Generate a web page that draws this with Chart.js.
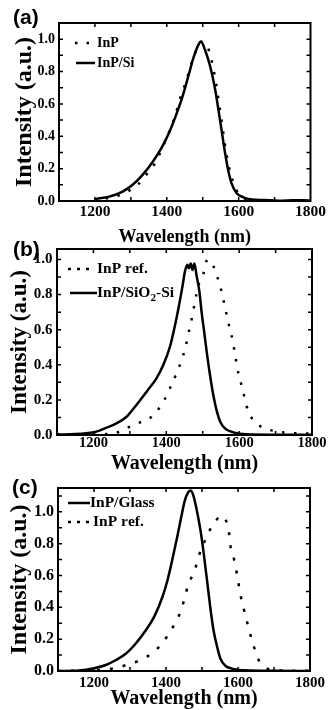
<!DOCTYPE html>
<html>
<head>
<meta charset="utf-8">
<script src="https://cdn.jsdelivr.net/npm/chart.js@4.4.1/dist/chart.umd.min.js"></script>
<style>
  html, body { margin: 0; padding: 0; background: #fff; }
  #wrap { position: relative; width: 328px; height: 710px; overflow: hidden; }
  #wrap canvas { position: absolute; left: 0; top: 0; }
  .tag { position: absolute; font: bold 21px "Liberation Sans", Arial, sans-serif; line-height: 21px; color: #000; }
</style>
</head>
<body>
<div id="wrap">
  <canvas id="chartA" width="328" height="710"></canvas>
  <canvas id="chartB" width="328" height="710"></canvas>
  <canvas id="chartC" width="328" height="710"></canvas>
  <div class="tag" style="left:13px;top:6px">(a)</div>
  <div class="tag" style="left:13px;top:238px">(b)</div>
  <div class="tag" style="left:12px;top:476px">(c)</div>
</div>
<script>
// tick labels (same for all three panels)
const xTicks = [1200, 1400, 1600, 1800];
const yTicks = [0, 0.2, 0.4, 0.6, 0.8, 1.0];

// (a) InP (dotted) and InP/Si (solid)
const wlA_InP = [1230, 1260, 1291, 1321, 1346, 1369, 1385, 1399, 1413, 1424, 1434, 1445, 1455, 1464, 1475, 1486, 1498, 1512, 1523, 1530, 1536, 1541, 1546, 1551, 1556, 1560, 1565, 1571, 1578, 1588, 1599, 1612, 1630, 1660];
const intA_InP = [0.015, 0.03, 0.058, 0.105, 0.171, 0.239, 0.315, 0.387, 0.463, 0.531, 0.613, 0.685, 0.747, 0.819, 0.891, 0.953, 0.984, 0.959, 0.887, 0.813, 0.743, 0.669, 0.597, 0.521, 0.442, 0.377, 0.305, 0.233, 0.167, 0.099, 0.047, 0.02, 0.008, 0.002];
const wlA_InPSi = [1200, 1240, 1277, 1305, 1332, 1360, 1387, 1406, 1424, 1443, 1461, 1475, 1489, 1495, 1507, 1521, 1535, 1544, 1553, 1562, 1571, 1580, 1594, 1613, 1636, 1672, 1710, 1750, 1780, 1800];
const intA_InPSi = [0.012, 0.027, 0.058, 0.10, 0.16, 0.24, 0.335, 0.42, 0.52, 0.64, 0.78, 0.89, 0.97, 0.985, 0.93, 0.83, 0.685, 0.56, 0.43, 0.30, 0.19, 0.11, 0.05, 0.023, 0.01, 0.006, 0.002, 0.004, 0.005, 0.003];

// (b) InP ref. (dotted) and InP/SiO2-Si (solid)
const wlB_ref = [1100, 1150, 1200, 1235, 1259, 1286, 1314, 1360, 1392, 1410, 1428, 1442, 1453, 1462, 1470, 1477, 1483, 1491, 1502, 1513, 1525, 1534, 1543, 1552, 1559, 1566, 1573, 1582, 1589, 1595, 1603, 1612, 1621, 1635, 1653, 1676, 1704, 1731, 1768, 1800];
const intB_ref = [0.004, 0.003, 0.003, 0.005, 0.0095, 0.034, 0.061, 0.104, 0.19, 0.266, 0.351, 0.427, 0.503, 0.588, 0.664, 0.74, 0.806, 0.873, 0.92, 1.0, 0.977, 0.94, 0.882, 0.816, 0.75, 0.683, 0.617, 0.541, 0.455, 0.38, 0.313, 0.237, 0.161, 0.095, 0.057, 0.034, 0.019, 0.013, 0.009, 0.008];
const wlB_SiO2 = [1100, 1150, 1181, 1208, 1236, 1263, 1291, 1318, 1346, 1373, 1392, 1410, 1424, 1435, 1445, 1451, 1458, 1462, 1467, 1472, 1477, 1483, 1491, 1497, 1504, 1511, 1520, 1529, 1539, 1548, 1561, 1584, 1621, 1700, 1800];
const intB_SiO2 = [0.003, 0.005, 0.01, 0.019, 0.042, 0.066, 0.104, 0.171, 0.247, 0.323, 0.40, 0.503, 0.626, 0.74, 0.854, 0.93, 0.97, 0.95, 0.977, 0.94, 0.977, 0.91, 0.816, 0.70, 0.588, 0.474, 0.342, 0.228, 0.133, 0.076, 0.038, 0.015, 0.004, 0.002, 0.001];

// (c) InP/Glass (solid) and InP ref. (dotted)
const wlC_glass = [1100, 1158, 1200, 1233, 1261, 1289, 1316, 1344, 1367, 1390, 1404, 1417, 1431, 1443, 1452, 1461, 1468, 1475, 1484, 1496, 1505, 1514, 1523, 1532, 1542, 1551, 1565, 1583, 1620, 1700, 1800];
const intC_glass = [0.0, 0.003, 0.017, 0.0375, 0.069, 0.11, 0.173, 0.256, 0.34, 0.465, 0.569, 0.694, 0.84, 0.975, 1.069, 1.121, 1.135, 1.11, 1.027, 0.881, 0.735, 0.569, 0.40, 0.256, 0.152, 0.079, 0.033, 0.015, 0.004, 0.001, 0.0];
const wlC_ref = [1100, 1150, 1200, 1238, 1268, 1298, 1330, 1360, 1387, 1408, 1427, 1440, 1450, 1460, 1475, 1487, 1496, 1509, 1523, 1537, 1553, 1562, 1569, 1575, 1580, 1590, 1600, 1608, 1616, 1624, 1633, 1643, 1655, 1675, 1700, 1750, 1800];
const intC_ref = [0.0, 0.002, 0.004, 0.01, 0.023, 0.044, 0.069, 0.11, 0.167, 0.235, 0.308, 0.37, 0.444, 0.527, 0.61, 0.683, 0.756, 0.823, 0.892, 0.94, 0.975, 0.965, 0.93, 0.87, 0.77, 0.694, 0.57, 0.465, 0.39, 0.319, 0.24, 0.1625, 0.08, 0.023, 0.006, 0.002, 0.001];

const SERIF = '"Liberation Serif", "Times New Roman", serif';
const W = 328, H = 710;

function pts(xs, ys) {
  return xs.map((x, i) => ({ x: x, y: ys[i] }));
}

// box, inward ticks and the small in-plot legend
const panelDeco = {
  id: 'panelDeco',
  afterDatasetsDraw(chart, args, opts) {
    const { ctx, chartArea: a, scales: { x, y } } = chart;
    ctx.save();
    ctx.strokeStyle = '#000';
    ctx.lineWidth = 1.5;
    ctx.beginPath();
    for (let v = 1200; v < 1800; v += 100) {
      const px = x.getPixelForValue(v);
      ctx.moveTo(px, a.bottom); ctx.lineTo(px, a.bottom - 4);
      ctx.moveTo(px, a.top); ctx.lineTo(px, a.top + 4);
    }
    for (let k = 1; k / 10 < y.max - 0.01; k++) {
      const py = y.getPixelForValue(k / 10);
      ctx.moveTo(a.left, py); ctx.lineTo(a.left + 4, py);
      ctx.moveTo(a.right, py); ctx.lineTo(a.right - 4, py);
    }
    ctx.stroke();
    ctx.lineWidth = 2;
    ctx.strokeRect(a.left, a.top, a.right - a.left, a.bottom - a.top);

    // legend
    const size = opts.fontSize;
    opts.items.forEach(it => {
      const ds = chart.data.datasets[it.ds];
      ctx.beginPath();
      ctx.lineWidth = ds.borderWidth;
      ctx.setLineDash(it.dash || []);
      ctx.moveTo(it.x0, it.y);
      ctx.lineTo(it.x1, it.y);
      ctx.stroke();
      ctx.setLineDash([]);
      ctx.fillStyle = '#000';
      ctx.textBaseline = 'middle';
      ctx.textAlign = 'left';
      let tx = it.tx;
      for (const ch of ds.label) {
        if (ch === '\u2082') {
          ctx.font = 'bold ' + (size * 0.72) + 'px ' + SERIF;
          ctx.fillText('2', tx, it.y + size * 0.3);
          tx += ctx.measureText('2').width;
        } else {
          ctx.font = 'bold ' + size + 'px ' + SERIF;
          ctx.fillText(ch, tx, it.y);
          tx += ctx.measureText(ch).width;
        }
      }
    });
    ctx.restore();
  }
};

function makePanel(id, p) {
  const xTitleLH = p.xTitleSize * 1.2;
  const xAxisH = p.xTitleCenter - p.area.bottom + xTitleLH / 2;
  new Chart(document.getElementById(id), {
    type: 'line',
    data: { datasets: p.datasets },
    options: {
      responsive: false,
      animation: false,
      events: [],
      layout: {
        padding: { left: 0, right: W - p.area.right, top: p.area.top, bottom: H - p.area.bottom - xAxisH }
      },
      elements: { point: { radius: 0 } },
      plugins: {
        legend: { display: false },
        tooltip: { enabled: false },
        panelDeco: p.legend
      },
      scales: {
        x: {
          type: 'linear',
          min: 1100,
          max: 1800,
          grid: { display: false, drawTicks: false },
          border: { display: false },
          afterBuildTicks: s => { s.ticks = xTicks.map(v => ({ value: v })); },
          afterFit: s => { s.height = xAxisH; },
          ticks: {
            padding: p.xTickPad,
            maxRotation: 0,
            color: '#000',
            font: { family: SERIF, size: p.xFont, weight: 'bold' },
            callback: v => String(v)
          },
          title: {
            display: true,
            text: 'Wavelength (nm)',
            color: '#000',
            padding: { top: 0, bottom: 0 },
            font: { family: SERIF, size: p.xTitleSize, weight: 'bold' }
          }
        },
        y: {
          type: 'linear',
          min: 0,
          max: p.ymax,
          grid: { display: false, drawTicks: false },
          border: { display: false },
          afterBuildTicks: s => { s.ticks = yTicks.map(v => ({ value: v })); },
          afterFit: s => { s.width = p.area.left; },
          ticks: {
            padding: p.yTickPad,
            color: '#000',
            font: { family: SERIF, size: p.yFont, weight: 'bold' },
            callback: v => Number(v).toFixed(1)
          },
          title: {
            display: true,
            text: 'Intensity (a.u.)',
            color: '#000',
            padding: { top: p.yTitleCenter - p.yTitleSize * 0.6, bottom: 0 },
            font: { family: SERIF, size: p.yTitleSize, weight: 'bold' }
          }
        }
      }
    },
    plugins: [panelDeco]
  });
}

function solid(label, data) {
  return { label: label, data: data, borderColor: '#000', borderWidth: 2.5, fill: false, cubicInterpolationMode: 'monotone' };
}
function dotted(label, data, dash) {
  return { label: label, data: data, borderColor: '#000', borderWidth: 2.5, borderDash: dash, fill: false, cubicInterpolationMode: 'monotone' };
}

makePanel('chartA', {
  area: { left: 59, right: 313, top: 23, bottom: 201 },
  ymax: 1.1, yFont: 14, xFont: 15.5, xTitleSize: 18, yTitleSize: 24,
  xTitleCenter: 237, yTitleCenter: 25, xTickPad: 2, yTickPad: 4,
  datasets: [
    dotted('InP', pts(wlA_InP, intA_InP), [2.5, 9.5]),
    solid('InP/Si', pts(wlA_InPSi, intA_InPSi))
  ],
  legend: {
    fontSize: 14,
    items: [
      { ds: 0, x0: 75, x1: 90, tx: 97, y: 43, dash: [2.5, 9] },
      { ds: 1, x0: 76, x1: 95, tx: 97, y: 63 }
    ]
  }
});

makePanel('chartB', {
  area: { left: 57, right: 312, top: 249, bottom: 435 },
  ymax: 1.06, yFont: 15, xFont: 14.5, xTitleSize: 20, yTitleSize: 23,
  xTitleCenter: 464, yTitleCenter: 20, xTickPad: 0, yTickPad: 4.5,
  datasets: [
    dotted('InP ref.', pts(wlB_ref, intB_ref), [2.5, 9.5]),
    solid('InP/SiO\u2082-Si', pts(wlB_SiO2, intB_SiO2))
  ],
  legend: {
    fontSize: 15.5,
    items: [
      { ds: 0, x0: 68, x1: 91, tx: 97, y: 269, dash: [3, 6] },
      { ds: 1, x0: 70, x1: 97, tx: 97, y: 293 }
    ]
  }
});

makePanel('chartC', {
  area: { left: 58, right: 312, top: 488, bottom: 671 },
  ymax: 1.15, yFont: 16, xFont: 15, xTitleSize: 20, yTitleSize: 24,
  xTitleCenter: 699, yTitleCenter: 20, xTickPad: 3, yTickPad: 4,
  datasets: [
    solid('InP/Glass', pts(wlC_glass, intC_glass)),
    dotted('InP ref.', pts(wlC_ref, intC_ref), [3, 10])
  ],
  legend: {
    fontSize: 15.5,
    items: [
      { ds: 0, x0: 68, x1: 90, tx: 90, y: 503 },
      { ds: 1, x0: 68, x1: 91, tx: 93, y: 522, dash: [3, 6] }
    ]
  }
});
</script>
</body>
</html>
